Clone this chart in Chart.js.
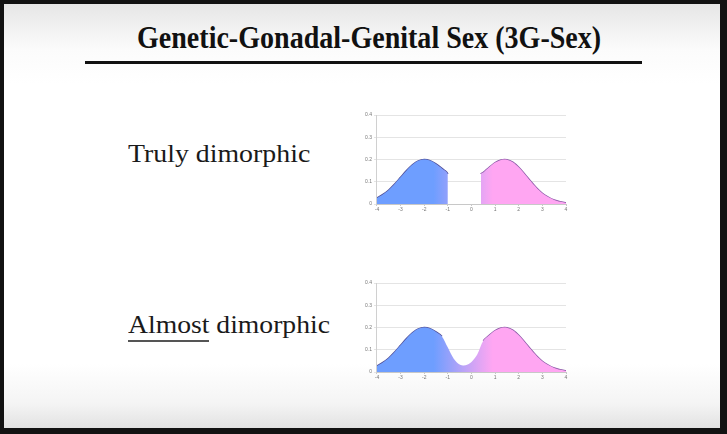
<!DOCTYPE html>
<html>
<head>
<meta charset="utf-8">
<script src="https://cdn.jsdelivr.net/npm/chart.js@4.4.1/dist/chart.umd.min.js"></script>
<style>
  html, body { margin: 0; padding: 0; }
  body { width: 727px; height: 434px; background: #121212; position: relative; overflow: hidden; }
  .slide {
    position: absolute; left: 4px; top: 4px; width: 716px; height: 424px;
    background: linear-gradient(to bottom, #e6e6e6 0px, #fbfbfb 45px, #ffffff 80px, #ffffff 360px, #f4f4f4 400px, #e2e2e2 424px);
  }
  .txt { position: absolute; font-family: "Liberation Serif", "Times New Roman", serif; color: #111; white-space: nowrap; transform-origin: 0 0; }
  #title { font-weight: bold; font-size: 31px; line-height: 31px; }
  .lbl { font-size: 26px; line-height: 26px; color: #1a1a1a; }
  .rule { position: absolute; left: 85px; top: 61px; width: 557px; height: 3px; background: #111; }
  .und { position: absolute; height: 2px; background: #555; }
  .box { position: absolute; }
</style>
</head>
<body>
<div class="slide"></div>
<div class="txt" id="title">Genetic-Gonadal-Genital Sex (3G-Sex)</div>
<div class="rule"></div>
<div class="txt lbl" id="lbl1">Truly dimorphic</div>
<div class="txt lbl" id="lbl2">Almost dimorphic</div>
<div class="und" style="left:128px; top:340px; width:81px;"></div>
<div class="box" style="left:363px; top:110px; width:206px; height:104px;"><canvas id="plot1"></canvas></div>
<div class="box" style="left:363px; top:278px; width:206px; height:104px;"><canvas id="plot2"></canvas></div>
<script>
// x positions and values
const xTicks = [-4, -3, -2, -1, 0, 1, 2, 3, 4];
const yTicks = [0, 0.1, 0.2, 0.3, 0.4];

// truly dimorphic: two separate humps with a gap
const blueX = [-4, -3.75, -3.5, -3.25, -3, -2.75, -2.5, -2.25, -2, -1.75, -1.5, -1.25, -1, -1];
const blueY = [0.027, 0.043, 0.063, 0.09, 0.12, 0.15, 0.176, 0.194, 0.2, 0.195, 0.18, 0.16, 0.135, 0];
const pinkX = [0.4, 0.4, 0.5, 0.75, 1, 1.25, 1.5, 1.75, 2, 2.25, 2.5, 2.75, 3, 3.25, 3.5, 3.75, 4];
const pinkY = [0, 0.135, 0.142, 0.165, 0.186, 0.198, 0.199, 0.188, 0.165, 0.135, 0.103, 0.073, 0.048, 0.031, 0.018, 0.01, 0.005];

// almost dimorphic: one curve with a dip in the middle
const mixX = [-4, -3.75, -3.5, -3.25, -3, -2.75, -2.5, -2.25, -2, -1.75, -1.5, -1.25, -1, -0.75, -0.5, -0.25, 0, 0.25, 0.5, 0.75, 1, 1.25, 1.5, 1.75, 2, 2.25, 2.5, 2.75, 3, 3.25, 3.5, 3.75, 4];
const mixY = [0.027, 0.043, 0.063, 0.09, 0.12, 0.15, 0.176, 0.194, 0.2, 0.195, 0.18, 0.16, 0.11, 0.06, 0.034, 0.03, 0.045, 0.08, 0.14, 0.165, 0.186, 0.198, 0.199, 0.188, 0.165, 0.135, 0.103, 0.073, 0.048, 0.031, 0.018, 0.01, 0.005];

const blueCol = '#6e9eff';
const midCol = '#b9a3f7';
const pinkCol = '#ffa6f2';

// fit the slide texts to the widths seen in the picture
function place(id, left, baseline, width) {
    const el = document.getElementById(id);
    const fs = parseFloat(getComputedStyle(el).fontSize);
    el.style.left = left + 'px';
    el.style.top = (baseline - fs * 0.8375) + 'px';
    el.style.transform = 'scaleX(' + (width / el.offsetWidth) + ')';
}
place('title', 137, 48, 464);
place('lbl1', 128, 163, 182);
place('lbl2', 128, 334, 202);

function pts(xs, ys) {
    return xs.map((x, i) => ({ x: x, y: ys[i] }));
}

function fillGradient(ctx) {
    const chart = ctx.chart;
    if (!chart.chartArea) return blueCol;
    const xs = chart.scales.x;
    const g = chart.ctx.createLinearGradient(xs.getPixelForValue(-1.6), 0, xs.getPixelForValue(0.9), 0);
    g.addColorStop(0, blueCol);
    g.addColorStop(0.5, midCol);
    g.addColorStop(1, pinkCol);
    return g;
}

function outline(ctx, hideFrom, hideTo) {
    const a = ctx.p0.parsed.x, b = ctx.p1.parsed.x;
    if (a === b) return 'rgba(0,0,0,0)';
    if (a >= hideFrom && b <= hideTo) return 'rgba(0,0,0,0)';
    return a < 0 ? '#50509a' : '#8c5aa8';
}

// filled area only, no edge
function areaSet(xs, ys) {
    return { data: pts(xs, ys), fill: 'origin', backgroundColor: fillGradient, borderWidth: 0, borderColor: 'rgba(0,0,0,0)' };
}

// edge only
function edgeSet(xs, ys, hideFrom, hideTo) {
    return { data: pts(xs, ys), fill: false, segment: { borderColor: (c) => outline(c, hideFrom, hideTo) } };
}

function makeOptions() {
    return {
        responsive: true,
        maintainAspectRatio: false,
        animation: false,
        layout: { padding: { top: 0, right: 3, left: 0, bottom: 0 } },
        plugins: { legend: { display: false }, tooltip: { enabled: false } },
        elements: { point: { radius: 0 }, line: { tension: 0.3, borderWidth: 1.5 } },
        scales: {
            x: {
                type: 'linear', min: -4, max: 4,
                afterBuildTicks: (s) => { s.ticks = xTicks.map(v => ({ value: v })); },
                grid: { display: true, drawOnChartArea: false, tickLength: 2, color: '#c8c8c8' },
                border: { color: '#c8c8c8' },
                ticks: { font: { size: 5, family: 'Arial' }, color: '#777', padding: 1, maxRotation: 0 }
            },
            y: {
                min: 0, max: 0.4,
                afterBuildTicks: (s) => { s.ticks = yTicks.map(v => ({ value: v })); },
                grid: { color: '#e4e4e4', tickLength: 3 },
                border: { color: '#d0d0d0' },
                ticks: { font: { size: 5, family: 'Arial' }, color: '#777', padding: 2 }
            }
        }
    };
}

new Chart(document.getElementById('plot1').getContext('2d'), {
    type: 'line',
    data: {
        datasets: [
            areaSet(blueX, blueY), edgeSet(blueX, blueY, 99, 99),
            areaSet(pinkX, pinkY), edgeSet(pinkX, pinkY, 99, 99)
        ]
    },
    options: makeOptions()
});

new Chart(document.getElementById('plot2').getContext('2d'), {
    type: 'line',
    data: {
        datasets: [areaSet(mixX, mixY), edgeSet(mixX, mixY, -1.25, 0.5)]
    },
    options: makeOptions()
});
</script>
</body>
</html>
